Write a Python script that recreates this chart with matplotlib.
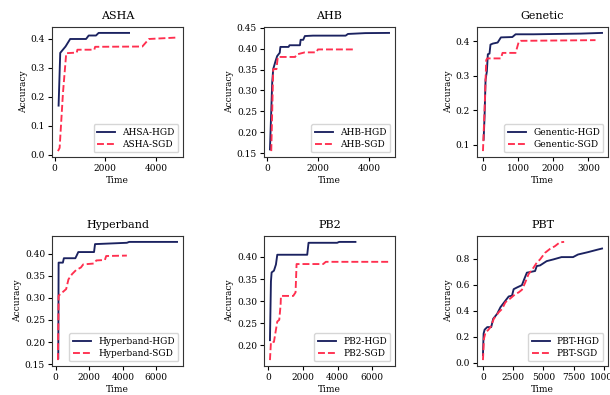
import numpy as np
import matplotlib
matplotlib.use('Agg')
import matplotlib.pyplot as plt

plt.rcParams['font.family'] = ['DejaVu Serif']
plt.rcParams['font.size'] = 6.5
plt.rcParams['axes.linewidth'] = 0.8
plt.rcParams['axes.edgecolor'] = '#333333'

NAVY = '#1b2260'
RED = '#ff2f4f'

# ---------------- ASHA
asha_hgd_t = [157, 222, 431, 615, 1242, 1346, 1634, 1738, 2940]
asha_hgd_acc = [0.169, 0.351, 0.373, 0.399, 0.399, 0.411, 0.411, 0.420, 0.420]
asha_sgd_t = [132, 198, 330, 459, 875, 900, 1568, 1600, 3463, 3725, 4835]
asha_sgd_acc = [0.012, 0.023, 0.213, 0.350, 0.352, 0.362, 0.362, 0.372, 0.373, 0.399, 0.404]

# ---------------- AHB
ahb_hgd_t = [103, 192, 231, 321, 385, 487, 513, 833, 872, 1282, 1308, 1410, 1474,
             1795, 3077, 3167, 3846, 4782]
ahb_hgd_acc = [0.159, 0.320, 0.351, 0.370, 0.382, 0.390, 0.404, 0.404, 0.408, 0.408,
               0.421, 0.421, 0.430, 0.431, 0.431, 0.435, 0.437, 0.4375]
ahb_sgd_t = [154, 231, 359, 410, 1090, 1154, 1474, 1923, 1987, 3397]
ahb_sgd_acc = [0.155, 0.351, 0.351, 0.380, 0.380, 0.386, 0.391, 0.391, 0.398, 0.398]

# ---------------- Genetic
gen_hgd_t = [19, 46, 74, 111, 139, 186, 214, 279, 418, 511, 836, 929, 1440, 2786, 3389]
gen_hgd_acc = [0.114, 0.182, 0.288, 0.312, 0.362, 0.364, 0.390, 0.393, 0.396, 0.411,
               0.412, 0.420, 0.420, 0.422, 0.424]
gen_sgd_t = [0, 46, 93, 121, 511, 557, 929, 1021, 1068, 3203]
gen_sgd_acc = [0.081, 0.201, 0.345, 0.350, 0.350, 0.366, 0.366, 0.399, 0.401, 0.403]

# ---------------- Hyperband
hb_hgd_t = [156, 176, 430, 489, 1173, 1251, 1349, 2287, 2346, 4243, 4379, 7233]
hb_hgd_acc = [0.163, 0.380, 0.380, 0.390, 0.390, 0.396, 0.404, 0.404, 0.422, 0.425,
              0.427, 0.427]
hb_sgd_t = [137, 176, 293, 626, 762, 977, 1212, 1505, 1642, 2287, 2424, 2933, 3011, 4243]
hb_sgd_acc = [0.159, 0.305, 0.309, 0.320, 0.342, 0.354, 0.363, 0.369, 0.376, 0.378,
              0.385, 0.386, 0.395, 0.396]

# ---------------- PB2
pb2_hgd_t = [96, 153, 192, 326, 441, 518, 2244, 2320, 3969, 4084, 5024]
pb2_hgd_acc = [0.212, 0.345, 0.365, 0.369, 0.383, 0.405, 0.405, 0.432, 0.432, 0.434, 0.434]
pb2_sgd_t = [96, 153, 326, 518, 633, 710, 729, 1438, 1572, 1630, 3164, 3317, 6961]
pb2_sgd_acc = [0.167, 0.208, 0.208, 0.254, 0.258, 0.292, 0.312, 0.312, 0.320, 0.384,
               0.384, 0.389, 0.389]

# ---------------- PBT
pbt_hgd_t = [0, 54, 136, 355, 682, 846, 1173, 1446, 1855, 2129, 2402, 2539, 2811,
             3221, 3412, 3631, 3903, 4313, 4449, 4723, 5269, 5815, 6497, 7452, 7861,
             8680, 9499, 9850]
pbt_hgd_acc = [0.058, 0.224, 0.254, 0.274, 0.274, 0.338, 0.376, 0.427, 0.477, 0.510,
               0.516, 0.566, 0.579, 0.597, 0.643, 0.693, 0.698, 0.706, 0.744, 0.749,
               0.782, 0.795, 0.813, 0.813, 0.833, 0.851, 0.871, 0.879]
pbt_sgd_t = [0, 82, 218, 410, 628, 901, 1309, 1583, 1855, 2265, 2675, 2948, 3221,
             3494, 3767, 4177, 4449, 4723, 5132, 5541, 5951, 6361, 6715]
pbt_sgd_acc = [0.020, 0.185, 0.236, 0.249, 0.274, 0.338, 0.389, 0.414, 0.465, 0.495,
               0.528, 0.541, 0.561, 0.617, 0.681, 0.731, 0.770, 0.795, 0.846, 0.876,
               0.897, 0.927, 0.930]

panels = [
    ('ASHA', 'AHSA-HGD', 'ASHA-SGD', asha_hgd_t, asha_hgd_acc, asha_sgd_t, asha_sgd_acc),
    ('AHB', 'AHB-HGD', 'AHB-SGD', ahb_hgd_t, ahb_hgd_acc, ahb_sgd_t, ahb_sgd_acc),
    ('Genetic', 'Genentic-HGD', 'Genentic-SGD', gen_hgd_t, gen_hgd_acc, gen_sgd_t, gen_sgd_acc),
    ('Hyperband', 'Hyperband-HGD', 'Hyperband-SGD', hb_hgd_t, hb_hgd_acc, hb_sgd_t, hb_sgd_acc),
    ('PB2', 'PB2-HGD', 'PB2-SGD', pb2_hgd_t, pb2_hgd_acc, pb2_sgd_t, pb2_sgd_acc),
    ('PBT', 'PBT-HGD', 'PBT-SGD', pbt_hgd_t, pbt_hgd_acc, pbt_sgd_t, pbt_sgd_acc),
]

fig = plt.figure(figsize=(6.1, 3.95), dpi=100)
lefts = [52, 264, 477]
bottoms = [157, 366]
w, h = 131, 130

for i, (title, lab1, lab2, t1, a1, t2, a2) in enumerate(panels):
    r, c = divmod(i, 3)
    ax = fig.add_axes([lefts[c] / 610, 1 - bottoms[r] / 395, w / 610, h / 395])
    ax.plot(t1, a1, color=NAVY, lw=1.35, label=lab1)
    ax.plot(t2, a2, color=RED, lw=1.35, ls='--', label=lab2)
    ax.set_title(title, fontsize=8)
    ax.set_xlabel('Time', labelpad=2)
    ax.set_ylabel('Accuracy', labelpad=2)
    ax.tick_params(length=3, width=0.8, pad=2)
    ax.legend(loc='lower right', fontsize=6.5, handlelength=2.0, borderpad=0.4,
              labelspacing=0.35)

if 'PBT' in title:
    ax.set_xticks([0, 2500, 5000, 7500, 10000])

fig.savefig('out.png', dpi=100)
